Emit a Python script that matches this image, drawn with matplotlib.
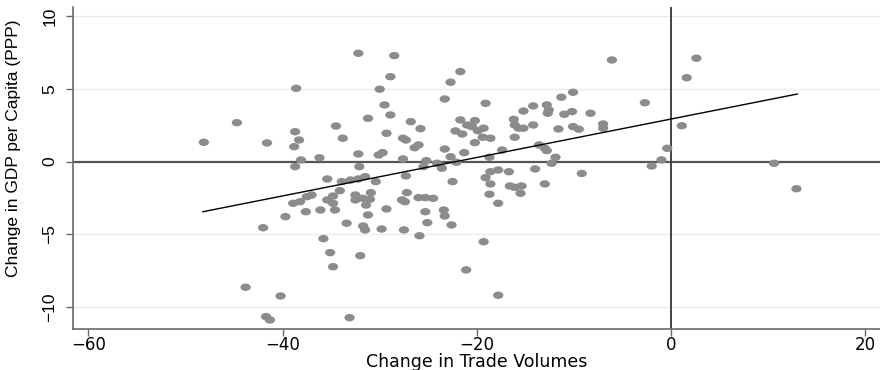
import numpy as np
import matplotlib
matplotlib.use("Agg")
import matplotlib.pyplot as plt
from matplotlib.path import Path
from matplotlib.transforms import Affine2D

# change in trade volumes (x) and change in GDP per capita (y)
trade = [
    -32.2, -28.5, -21.7, -28.9, -22.7, -38.6, -30.0, -10.1, -11.3, -23.3,
    -19.1, -29.5, -14.2, -12.8, -12.6, -12.7, -15.2, -11.0, -10.2, -28.9,
    -31.2, -16.2, -21.7, -20.2, -26.8, -34.5, -16.1, -15.7, -15.2, -21.0,
    -20.5, -14.2, -10.1, -38.7, -25.8, -19.3, -22.2, -21.5, -11.6, -29.3,
    -38.3, -38.8, -33.8, -27.6, -27.3, -19.4, -18.6, -16.1, -20.2, -26.0,
    -26.4, -13.6, -13.0, -12.8, -17.4, -23.3, -36.2, -38.1, -38.7, -32.2,
    -30.1, -29.7, -27.6, -25.2, -25.5, -24.1, -23.6, -22.7, -22.1, -21.3,
    -18.7, -11.9, -12.3, -9.2, -32.1, -35.4, -33.9, -33.0, -32.2, -31.5,
    -30.4, -27.3, -22.5, -19.1, -18.6, -17.8, -16.7, -18.6, -14.0, -13.0,
    -16.6, -16.1, -15.4, -39.7, -38.9, -38.2, -37.5, -37.0, -37.6, -36.1,
    -35.4, -34.8, -34.6, -34.1, -32.5, -32.5, -31.7, -30.9, -31.0, -31.4,
    -31.2, -29.3, -27.2, -27.7, -27.4, -26.0, -25.3, -24.5, -25.3, -23.4,
    -23.3, -18.7, -17.8, -15.5, -33.4, -31.7, -31.5, -29.8, -27.5, -25.1,
    -22.6, -25.9, -35.8, -35.1, -32.0, -34.8, -19.3, -21.1, -40.2, -17.8,
    -33.1, -44.7, -48.1, -41.6, -42.0, -43.8, -41.7, -41.3, -34.8, -19.9,
    -6.1, 2.6, 1.6, -2.7, -8.3, -7.0, -7.0, -9.5, 1.1, -0.4,
    -1.0, -2.0, 10.6, 12.9,
]
gdp = [
    7.45, 7.29, 6.19, 5.84, 5.46, 5.04, 4.98, 4.77, 4.43, 4.31,
    4.01, 3.90, 3.83, 3.90, 3.55, 3.33, 3.48, 3.26, 3.44, 3.21,
    2.98, 2.91, 2.87, 2.82, 2.75, 2.45, 2.52, 2.30, 2.30, 2.52,
    2.41, 2.52, 2.41, 2.06, 2.27, 2.30, 2.11, 1.90, 2.25, 1.95,
    1.49, 1.03, 1.61, 1.61, 1.49, 1.68, 1.61, 1.68, 1.31, 1.15,
    0.96, 1.15, 0.92, 0.76, 0.80, 0.87, 0.27, 0.12, -0.34, 0.53,
    0.46, 0.62, 0.19, 0.07, -0.34, -0.11, -0.45, 0.34, -0.04, 0.62,
    0.30, 0.30, -0.11, -0.81, -0.34, -1.19, -1.37, -1.26, -1.19, -1.03,
    -1.37, -0.98, -1.37, -1.10, -0.69, -0.57, -0.69, -1.53, -0.50, -1.53,
    -1.67, -1.76, -1.67, -3.78, -2.86, -2.75, -2.41, -2.29, -3.44, -3.32,
    -2.63, -2.86, -3.32, -1.99, -2.29, -2.63, -2.52, -2.13, -2.58, -2.98,
    -3.66, -3.25, -2.13, -2.63, -2.75, -2.47, -2.47, -2.52, -3.44, -3.32,
    -3.73, -2.24, -2.86, -2.17, -4.23, -4.42, -4.69, -4.63, -4.69, -4.19,
    -4.35, -5.09, -5.29, -6.25, -6.46, -7.22, -5.50, -7.44, -9.23, -9.18,
    -10.72, 2.68, 1.33, 1.29, -4.54, -8.63, -10.65, -10.88, -2.36, 2.13,
    6.99, 7.11, 5.77, 4.05, 3.33, 2.59, 2.30, 2.23, 2.47, 0.92,
    0.12, -0.30, -0.11, -1.86,
]

# fitted line end points
fit_x = [-48.2, 13.0]
fit_y = [-3.44, 4.65]

xticks = [-60, -40, -20, 0, 20]
yticks = [-10, -5, 0, 5, 10]

narrow = ['Liberation Sans', 'DejaVu Sans']

fig = plt.figure(figsize=(8.8, 3.7), dpi=100)
ax = fig.add_axes([0.0826, 0.1108, 0.9174, 0.8703])

ax.set_xlim(-61.6, 21.5)
ax.set_ylim(-11.5, 10.63)

# light grid lines like stata
for t in yticks:
    if t != 0:
        ax.axhline(t, color='#e6eef0', lw=1.0, zorder=0)

ax.axhline(0, color='#555555', lw=1.6, zorder=1)
ax.axvline(0, color='#444444', lw=1.4, zorder=1)

# dots are a bit wider than tall in the picture
oval = Path.unit_circle().transformed(Affine2D().scale(1.0, 0.72))
ax.scatter(trade, gdp, s=55, marker=oval, color='#8c8c8c', edgecolors='none', zorder=2)
ax.plot(fit_x, fit_y, color='black', lw=1.0, zorder=3)

for side in ['top', 'right']:
    ax.spines[side].set_visible(False)
for side in ['left', 'bottom']:
    ax.spines[side].set_color('#6a6a6a')
    ax.spines[side].set_linewidth(1.2)

ax.set_xticks(xticks)
ax.set_yticks(yticks)
ax.tick_params(axis='both', direction='out', length=5, color='#6a6a6a', width=1)
ax.tick_params(axis='x', labelsize=12, pad=0)
ax.tick_params(axis='y', labelsize=12.5, pad=6)
for lab in ax.get_yticklabels():
    lab.set_rotation(90)
    lab.set_va('center')
    lab.set_family(narrow)

ax.set_xlabel('Change in Trade Volumes', fontsize=12.5)
ax.xaxis.set_label_coords(0.5, -0.076)
ax.xaxis.label.set_va('top')
ax.set_ylabel('Change in GDP per Capita (PPP)', fontsize=12.5, family=narrow)
ax.yaxis.set_label_coords(-0.064, 0.562)

fig.savefig('out.png', dpi=100)
